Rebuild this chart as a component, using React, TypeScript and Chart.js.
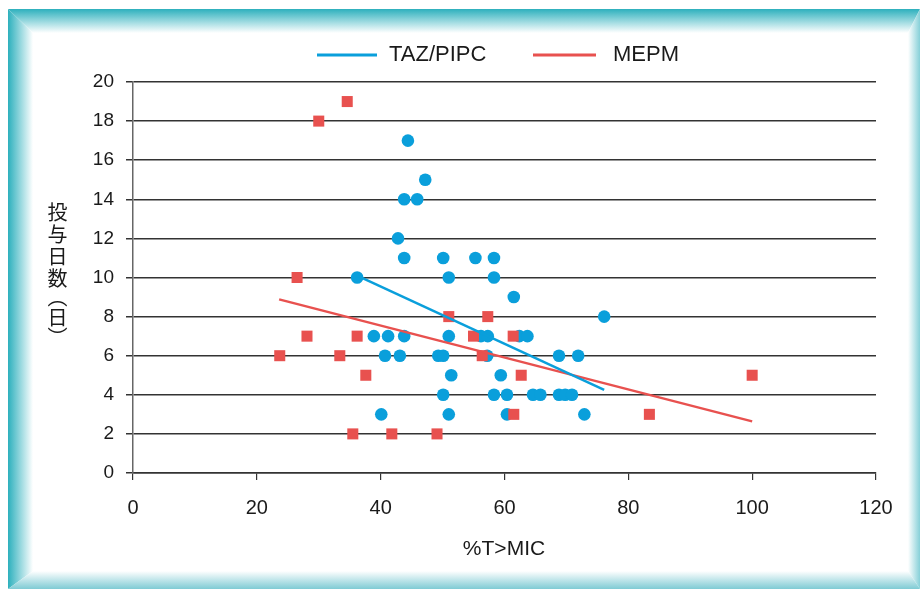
import React, { useEffect, useRef } from "react";
import { Chart, registerables } from "chart.js";

Chart.register(...registerables);

// TAZ/PIPC (blue circles)
const tazX = [36.2, 40.1, 38.9, 41.2, 40.7, 43.1, 43.8, 42.8, 43.8, 43.8, 45.9, 44.4, 47.2, 50.1, 51.0, 49.3, 50.1, 50.1, 51.0, 51.4, 51.0, 55.3, 58.3, 58.3, 56.2, 57.3, 57.2, 58.3, 59.4, 60.4, 60.4, 61.5, 62.4, 63.7, 64.6, 65.8, 68.8, 71.9, 68.8, 69.8, 70.9, 72.9, 76.1];
const tazY = [10, 3, 7, 7, 6, 6, 7, 12, 11, 14, 14, 17, 15, 11, 10, 6, 6, 4, 7, 5, 3, 11, 11, 10, 7, 7, 6, 4, 5, 3, 4, 9, 7, 7, 4, 4, 6, 6, 4, 4, 4, 3, 8];

// MEPM (red squares)
const mepmX = [23.7, 26.5, 28.1, 30.0, 33.4, 34.6, 35.5, 36.2, 37.6, 41.8, 49.1, 51.0, 55.0, 56.4, 57.3, 61.4, 61.5, 62.7, 83.4, 100];
const mepmY = [6, 10, 7, 18, 6, 19, 2, 7, 5, 2, 2, 8, 7, 6, 8, 7, 3, 5, 3, 5];

// Trend lines
const tazTrendX = [36.2, 76.1];
const tazTrendY = [10.1, 4.25];
const mepmTrendX = [23.6, 100];
const mepmTrendY = [8.88, 2.64];

const seriesNames = ["TAZ/PIPC", "MEPM"];
const xTitle = "%T>MIC";
const yTitleMain = "投与日数";
const yTitleUnit = "（日）";

const BLUE = "#0a9fdb";
const RED = "#e8514f";
const TEAL = "#2db0bd";
const FONT = "'Liberation Sans', Arial, sans-serif";

const pts = (xs: number[], ys: number[]) => xs.map((x, i) => ({ x, y: ys[i] }));

const decorPlugin = {
  id: "decor",
  beforeDraw(chart: any) {
    const ctx = chart.ctx as CanvasRenderingContext2D;
    const W = 920, H = 589;
    const L = 8, T = 9, R = 920, B = 589;
    const lw = 25, tw = 24, rw = 12, bw = 18;
    ctx.save();
    ctx.fillStyle = "#fff";
    ctx.fillRect(0, 0, W, H);
    let g = ctx.createLinearGradient(0, T, 0, T + tw);
    g.addColorStop(0, TEAL);
    g.addColorStop(1, "#ffffff");
    ctx.fillStyle = g;
    ctx.beginPath();
    ctx.moveTo(L, T); ctx.lineTo(R, T); ctx.lineTo(R - rw, T + tw); ctx.lineTo(L + lw, T + tw); ctx.closePath();
    ctx.fill();
    g = ctx.createLinearGradient(L, 0, L + lw, 0);
    g.addColorStop(0, TEAL);
    g.addColorStop(1, "#ffffff");
    ctx.fillStyle = g;
    ctx.beginPath();
    ctx.moveTo(L, T); ctx.lineTo(L + lw, T + tw); ctx.lineTo(L + lw, B - bw); ctx.lineTo(L, B); ctx.closePath();
    ctx.fill();
    g = ctx.createLinearGradient(R - rw, 0, R, 0);
    g.addColorStop(0, "#ffffff");
    g.addColorStop(1, "#86d0d8");
    ctx.fillStyle = g;
    ctx.beginPath();
    ctx.moveTo(R, T); ctx.lineTo(R, B); ctx.lineTo(R - rw, B - bw); ctx.lineTo(R - rw, T + tw); ctx.closePath();
    ctx.fill();
    g = ctx.createLinearGradient(0, B - bw, 0, B);
    g.addColorStop(0, "#ffffff");
    g.addColorStop(1, "#7fcbd4");
    ctx.fillStyle = g;
    ctx.beginPath();
    ctx.moveTo(L, B); ctx.lineTo(L + lw, B - bw); ctx.lineTo(R - rw, B - bw); ctx.lineTo(R, B); ctx.closePath();
    ctx.fill();
    ctx.restore();
  },
  afterDraw(chart: any) {
    const ctx = chart.ctx as CanvasRenderingContext2D;
    ctx.save();
    const ly = 55;
    ctx.lineWidth = 3;
    ctx.strokeStyle = BLUE;
    ctx.beginPath(); ctx.moveTo(317, ly); ctx.lineTo(377, ly); ctx.stroke();
    ctx.strokeStyle = RED;
    ctx.beginPath(); ctx.moveTo(533, ly); ctx.lineTo(596, ly); ctx.stroke();
    ctx.fillStyle = "#1a1a1a";
    ctx.font = `22px ${FONT}`;
    ctx.textBaseline = "middle";
    ctx.textAlign = "left";
    ctx.fillText(seriesNames[0], 389, ly);
    ctx.fillText(seriesNames[1], 613, ly);
    ctx.textAlign = "center";
    ctx.font = `21px ${FONT}`;
    ctx.fillText(xTitle, 504, 549);
    ctx.restore();
  },
};

export default function App() {
  const ref = useRef<HTMLCanvasElement | null>(null);
  useEffect(() => {
    if (!ref.current) return;
    const chart = new Chart(ref.current, {
      type: "scatter",
      data: {
        datasets: [
          {
            label: seriesNames[0] + " trend",
            data: pts(tazTrendX, tazTrendY),
            showLine: true,
            borderColor: BLUE,
            borderWidth: 2.5,
            pointRadius: 0,
            fill: false,
          },
          {
            label: seriesNames[1] + " trend",
            data: pts(mepmTrendX, mepmTrendY),
            showLine: true,
            borderColor: RED,
            borderWidth: 2.5,
            pointRadius: 0,
            fill: false,
          },
          {
            label: seriesNames[1],
            data: pts(mepmX, mepmY),
            pointStyle: "rect",
            pointRadius: 7.8,
            backgroundColor: RED,
            borderWidth: 0,
            showLine: false,
          },
          {
            label: seriesNames[0],
            data: pts(tazX, tazY),
            pointStyle: "circle",
            pointRadius: 6.3,
            backgroundColor: BLUE,
            borderWidth: 0,
            showLine: false,
          },
        ],
      },
      options: {
        animation: false,
        responsive: false,
        devicePixelRatio: 1,
        layout: { padding: { top: 82, right: 44, left: 0, bottom: 0 } },
        plugins: { legend: { display: false }, tooltip: { enabled: false } },
        scales: {
          x: {
            type: "linear",
            min: 0,
            max: 120,
            afterFit: (s: any) => { s.height = 116; },
            ticks: { stepSize: 20, color: "#1a1a1a", font: { size: 20, family: FONT }, padding: 16 },
            grid: { drawOnChartArea: false, drawTicks: true, tickLength: 7, color: "#333", lineWidth: 1.2 },
            border: { color: "#333", width: 1.5 },
          },
          y: {
            type: "linear",
            min: 0,
            max: 20,
            afterFit: (s: any) => { s.width = 133; },
            ticks: { stepSize: 2, color: "#1a1a1a", font: { size: 19, family: FONT }, padding: 12 },
            grid: { color: "#333", lineWidth: 1.5, tickLength: 7 },
            border: { color: "#666", width: 1.5 },
          },
        },
      },
      plugins: [decorPlugin],
    });
    return () => chart.destroy();
  }, []);
  return (
    <div style={{ position: "absolute", left: 0, top: 0, width: 920, height: 589 }}>
      <canvas ref={ref} width={920} height={589} style={{ width: 920, height: 589, display: "block" }} />
      <div
        style={{
          position: "absolute",
          left: 47,
          top: 202,
          writingMode: "vertical-rl",
          fontFamily: "'Noto Sans CJK JP', sans-serif",
          fontSize: 20,
          lineHeight: "20px",
          color: "#1a1a1a",
          whiteSpace: "nowrap",
        }}
      >
        <span style={{ letterSpacing: 2 }}>{yTitleMain}</span>
        <span style={{ marginTop: -3 }}>{yTitleUnit}</span>
      </div>
    </div>
  );
}
